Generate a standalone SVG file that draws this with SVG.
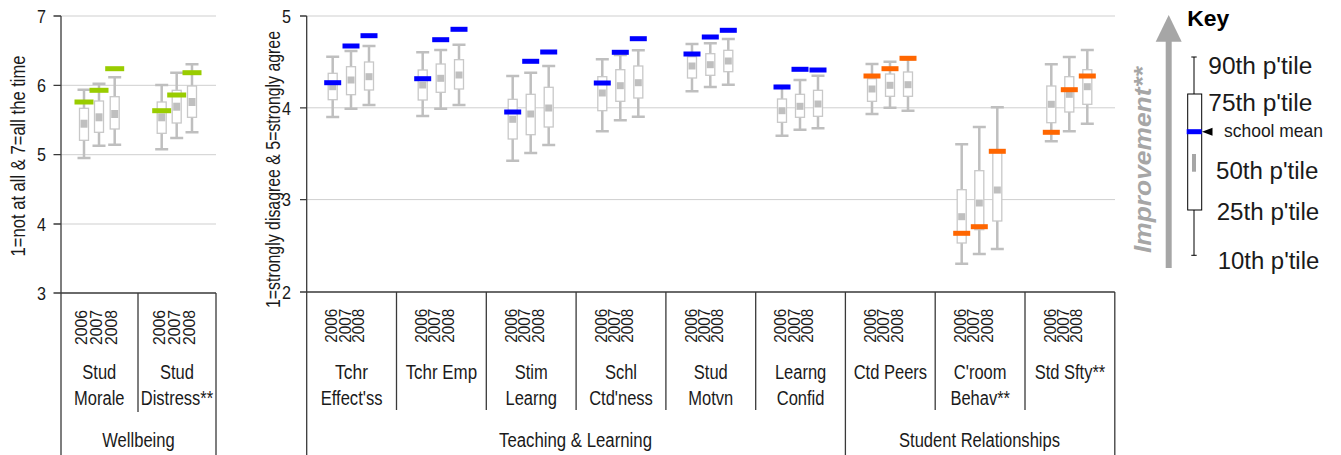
<svg xmlns="http://www.w3.org/2000/svg" width="1341" height="455" viewBox="0 0 1341 455">
<style>
text{font-family:"Liberation Sans",Arial,sans-serif;fill:#1a1a1a}
.grid{stroke:#cfcfcf;stroke-width:1;fill:none}
.ax{stroke:#3a3a3a;stroke-width:1.3;fill:none}
.w{stroke:#bfbfbf;stroke-width:2.5;fill:none}
.bx{fill:#fff;stroke:#c8c8c8;stroke-width:1.3}
.md{fill:#bfbfbf}
.mg{fill:#99cc00}
.mb{fill:#0000ff}
.mo{fill:#ff6600}
.tk{font-size:19px;text-anchor:end}
.yr{font-size:16px}
.cl{font-size:20px;text-anchor:middle}
.kl{font-size:23px}
</style>

<g id="left-chart">
  <g id="left-grid">
    <path class="grid" d="M61 16H216M61 85.3H216M61 154.7H216M61 224H216"/>
    <path class="ax" d="M61 16V455M53.5 16H61M53.5 85.3H61M53.5 154.7H61M53.5 224H61M53.5 293H216M138 293V412M216 293V455"/>
    <text class="tk" x="46" y="22.7" textLength="9" lengthAdjust="spacingAndGlyphs">7</text>
    <text class="tk" x="46" y="92" textLength="9" lengthAdjust="spacingAndGlyphs">6</text>
    <text class="tk" x="46" y="161.4" textLength="9" lengthAdjust="spacingAndGlyphs">5</text>
    <text class="tk" x="46" y="230.7" textLength="9" lengthAdjust="spacingAndGlyphs">4</text>
    <text class="tk" x="46" y="299.7" textLength="9" lengthAdjust="spacingAndGlyphs">3</text>
    <text font-size="20" text-anchor="middle" transform="translate(25,155.9) rotate(-90)" textLength="201" lengthAdjust="spacingAndGlyphs">1=not at all &amp; 7=all the time</text>
  </g>
  <g id="stud-morale">
    <g id="sm06"><path class="w" d="M84 89.7V158M77.5 89.7H90.5M77.5 158H90.5"/><rect class="bx" x="79.5" y="108.3" width="9" height="32"/><rect class="md" x="80.5" y="119.7" width="7" height="8"/><rect class="mg" x="74.5" y="99.5" width="19" height="5"/></g>
    <g id="sm07"><path class="w" d="M99 83.7V145.7M92.5 83.7H105.5M92.5 145.7H105.5"/><rect class="bx" x="94.5" y="101" width="9" height="31.3"/><rect class="md" x="95.5" y="113.3" width="7" height="8"/><rect class="mg" x="89.5" y="87.8" width="19" height="5"/></g>
    <g id="sm08"><path class="w" d="M114.7 77.3V144.7M108.2 77.3H121.2M108.2 144.7H121.2"/><rect class="bx" x="110.2" y="96.7" width="9" height="32.3"/><rect class="md" x="111.2" y="110" width="7" height="8"/><rect class="mg" x="105.2" y="66.2" width="19" height="5"/></g>
    <text class="yr" font-size="17" transform="translate(87.3,345) rotate(-90)" textLength="35" lengthAdjust="spacingAndGlyphs">2006</text>
    <text class="yr" font-size="17" transform="translate(101.7,345) rotate(-90)" textLength="35" lengthAdjust="spacingAndGlyphs">2007</text>
    <text class="yr" font-size="17" transform="translate(116.7,345) rotate(-90)" textLength="35" lengthAdjust="spacingAndGlyphs">2008</text>
    <text class="cl" x="99.3" y="379.3" textLength="34" lengthAdjust="spacingAndGlyphs">Stud</text>
    <text class="cl" x="99.3" y="405" textLength="50.4" lengthAdjust="spacingAndGlyphs">Morale</text>
  </g>
  <g id="stud-distress">
    <g id="sd06"><path class="w" d="M161.7 85V149.3M155.2 85H168.2M155.2 149.3H168.2"/><rect class="bx" x="157.2" y="102" width="9" height="31.3"/><rect class="md" x="158.2" y="113.3" width="7" height="8"/><rect class="mg" x="152.2" y="108.2" width="19" height="5"/></g>
    <g id="sd07"><path class="w" d="M176.7 72.7V138M170.2 72.7H183.2M170.2 138H183.2"/><rect class="bx" x="172.2" y="90.3" width="9" height="32.7"/><rect class="md" x="173.2" y="102.7" width="7" height="8"/><rect class="mg" x="167.2" y="92.5" width="19" height="5"/></g>
    <g id="sd08"><path class="w" d="M192 64.3V132.3M185.5 64.3H198.5M185.5 132.3H198.5"/><rect class="bx" x="187.5" y="86" width="9" height="31.3"/><rect class="md" x="188.5" y="98" width="7" height="8"/><rect class="mg" x="182.5" y="70.2" width="19" height="5"/></g>
    <text class="yr" font-size="17" transform="translate(165,345) rotate(-90)" textLength="35" lengthAdjust="spacingAndGlyphs">2006</text>
    <text class="yr" font-size="17" transform="translate(179.7,345) rotate(-90)" textLength="35" lengthAdjust="spacingAndGlyphs">2007</text>
    <text class="yr" font-size="17" transform="translate(194.7,345) rotate(-90)" textLength="35" lengthAdjust="spacingAndGlyphs">2008</text>
    <text class="cl" x="177" y="379.3" textLength="34" lengthAdjust="spacingAndGlyphs">Stud</text>
    <text class="cl" x="177" y="405" textLength="72.4" lengthAdjust="spacingAndGlyphs">Distress**</text>
  </g>
  <text class="cl" font-size="21" x="138.5" y="447" textLength="72.4" lengthAdjust="spacingAndGlyphs">Wellbeing</text>
</g>

<g id="main-chart">
  <g id="main-grid">
    <path class="grid" d="M306.7 16H1115M306.7 107.8H1115M306.7 199.6H1115"/>
    <path class="ax" d="M306.7 16V455M300 16H306.7M300 107.8H306.7M300 199.6H306.7M300 292H1114.8M845.4 292V455M1114.8 292V455M396.5 292V410M486.3 292V410M576.1 292V410M665.9 292V410M755.7 292V410M935.2 292V410M1025 292V410"/>
    <text class="tk" x="291" y="22.7" textLength="9" lengthAdjust="spacingAndGlyphs">5</text>
    <text class="tk" x="291" y="114.5" textLength="9" lengthAdjust="spacingAndGlyphs">4</text>
    <text class="tk" x="291" y="206.3" textLength="9" lengthAdjust="spacingAndGlyphs">3</text>
    <text class="tk" x="291" y="298.7" textLength="9" lengthAdjust="spacingAndGlyphs">2</text>
    <text font-size="20" text-anchor="middle" transform="translate(280,169.5) rotate(-90)" textLength="277" lengthAdjust="spacingAndGlyphs">1=strongly disagree &amp; 5=strongly agree</text>
  </g>

  <g id="tchr-effectss">
    <g id="te06"><path class="w" d="M332.7 56.7V117M326.2 56.7H339.2M326.2 117H339.2"/><rect class="bx" x="328.2" y="73.3" width="9" height="26.4"/><rect class="md" x="329.2" y="83.2" width="7" height="7"/><rect class="mb" x="324.2" y="80.2" width="17" height="5"/></g>
    <g id="te07"><path class="w" d="M351 51V108.7M344.5 51H357.5M344.5 108.7H357.5"/><rect class="bx" x="346.5" y="66.7" width="9" height="28"/><rect class="md" x="347.5" y="76.5" width="7" height="7"/><rect class="mb" x="342.5" y="43.5" width="17" height="5"/></g>
    <g id="te08"><path class="w" d="M369 46V105M362.5 46H375.5M362.5 105H375.5"/><rect class="bx" x="364.5" y="62" width="9" height="28"/><rect class="md" x="365.5" y="73.2" width="7" height="7"/><rect class="mb" x="360.5" y="33.2" width="17" height="5"/></g>
    <text class="yr" transform="translate(337.3,342.7) rotate(-90)" textLength="34" lengthAdjust="spacingAndGlyphs">2006</text>
    <text class="yr" transform="translate(350.6,342.7) rotate(-90)" textLength="34" lengthAdjust="spacingAndGlyphs">2007</text>
    <text class="yr" transform="translate(363.9,342.7) rotate(-90)" textLength="34" lengthAdjust="spacingAndGlyphs">2008</text>
    <text class="cl" x="351.6" y="379.3" textLength="33" lengthAdjust="spacingAndGlyphs">Tchr</text>
    <text class="cl" x="351.6" y="405" textLength="61.8" lengthAdjust="spacingAndGlyphs">Effect'ss</text>
  </g>

  <g id="tchr-emp">
    <g id="tm06"><path class="w" d="M422.7 52.3V116M416.2 52.3H429.2M416.2 116H429.2"/><rect class="bx" x="418.2" y="70" width="9" height="30"/><rect class="md" x="419.2" y="81.5" width="7" height="7"/><rect class="mb" x="414.2" y="76.2" width="17" height="5"/></g>
    <g id="tm07"><path class="w" d="M440.7 50V108.7M434.2 50H447.2M434.2 108.7H447.2"/><rect class="bx" x="436.2" y="64" width="9" height="28.3"/><rect class="md" x="437.2" y="74.8" width="7" height="7"/><rect class="mb" x="432.2" y="37.2" width="17" height="5"/></g>
    <g id="tm08"><path class="w" d="M459 44.7V105M452.5 44.7H465.5M452.5 105H465.5"/><rect class="bx" x="454.5" y="59.7" width="9" height="29.3"/><rect class="md" x="455.5" y="71.5" width="7" height="7"/><rect class="mb" x="450.5" y="26.8" width="17" height="5"/></g>
    <text class="yr" transform="translate(427.1,342.7) rotate(-90)" textLength="34" lengthAdjust="spacingAndGlyphs">2006</text>
    <text class="yr" transform="translate(440.4,342.7) rotate(-90)" textLength="34" lengthAdjust="spacingAndGlyphs">2007</text>
    <text class="yr" transform="translate(453.7,342.7) rotate(-90)" textLength="34" lengthAdjust="spacingAndGlyphs">2008</text>
    <text class="cl" x="441.4" y="379.3" textLength="71.5" lengthAdjust="spacingAndGlyphs">Tchr Emp</text>
  </g>

  <g id="stim-learng">
    <g id="sl06"><path class="w" d="M512.7 76V160.7M506.2 76H519.2M506.2 160.7H519.2"/><rect class="bx" x="508.2" y="99.3" width="9" height="39.7"/><rect class="md" x="509.2" y="115.8" width="7" height="7"/><rect class="mb" x="504.2" y="109.5" width="17" height="5"/></g>
    <g id="sl07"><path class="w" d="M530.7 72.7V153M524.2 72.7H537.2M524.2 153H537.2"/><rect class="bx" x="526.2" y="94.3" width="9" height="40.4"/><rect class="md" x="527.2" y="110.5" width="7" height="7"/><rect class="mb" x="522.2" y="58.8" width="17" height="5"/></g>
    <g id="sl08"><path class="w" d="M548.7 66V145M542.2 66H555.2M542.2 145H555.2"/><rect class="bx" x="544.2" y="87.3" width="9" height="39.7"/><rect class="md" x="545.2" y="104.5" width="7" height="7"/><rect class="mb" x="540.2" y="49.5" width="17" height="5"/></g>
    <text class="yr" transform="translate(516.9,342.7) rotate(-90)" textLength="34" lengthAdjust="spacingAndGlyphs">2006</text>
    <text class="yr" transform="translate(530.2,342.7) rotate(-90)" textLength="34" lengthAdjust="spacingAndGlyphs">2007</text>
    <text class="yr" transform="translate(543.5,342.7) rotate(-90)" textLength="34" lengthAdjust="spacingAndGlyphs">2008</text>
    <text class="cl" x="531.2" y="379.3" textLength="33" lengthAdjust="spacingAndGlyphs">Stim</text>
    <text class="cl" x="531.2" y="405" textLength="51.4" lengthAdjust="spacingAndGlyphs">Learng</text>
  </g>

  <g id="schl-ctdness">
    <g id="sc06"><path class="w" d="M602.3 59.3V131.3M595.8 59.3H608.8M595.8 131.3H608.8"/><rect class="bx" x="597.8" y="76.7" width="9" height="34"/><rect class="md" x="598.8" y="89.5" width="7" height="7"/><rect class="mb" x="593.8" y="80.5" width="17" height="5"/></g>
    <g id="sc07"><path class="w" d="M620.3 55V120.3M613.8 55H626.8M613.8 120.3H626.8"/><rect class="bx" x="615.8" y="69.7" width="9" height="31.6"/><rect class="md" x="616.8" y="82.2" width="7" height="7"/><rect class="mb" x="611.8" y="49.8" width="17" height="5"/></g>
    <g id="sc08"><path class="w" d="M638.3 50.3V116.7M631.8 50.3H644.8M631.8 116.7H644.8"/><rect class="bx" x="633.8" y="66" width="9" height="32"/><rect class="md" x="634.8" y="79.2" width="7" height="7"/><rect class="mb" x="629.8" y="36.2" width="17" height="5"/></g>
    <text class="yr" transform="translate(606.7,342.7) rotate(-90)" textLength="34" lengthAdjust="spacingAndGlyphs">2006</text>
    <text class="yr" transform="translate(620,342.7) rotate(-90)" textLength="34" lengthAdjust="spacingAndGlyphs">2007</text>
    <text class="yr" transform="translate(633.3,342.7) rotate(-90)" textLength="34" lengthAdjust="spacingAndGlyphs">2008</text>
    <text class="cl" x="621" y="379.3" textLength="32.1" lengthAdjust="spacingAndGlyphs">Schl</text>
    <text class="cl" x="621" y="405" textLength="63.7" lengthAdjust="spacingAndGlyphs">Ctd'ness</text>
  </g>

  <g id="stud-motvn">
    <g id="mo06"><path class="w" d="M692 44V91.3M685.5 44H698.5M685.5 91.3H698.5"/><rect class="bx" x="687.5" y="56.7" width="9" height="21.3"/><rect class="md" x="688.5" y="62.5" width="7" height="7"/><rect class="mb" x="683.5" y="51.5" width="17" height="5"/></g>
    <g id="mo07"><path class="w" d="M710.3 43.3V87M703.8 43.3H716.8M703.8 87H716.8"/><rect class="bx" x="705.8" y="53.7" width="9" height="21.6"/><rect class="md" x="706.8" y="61.2" width="7" height="7"/><rect class="mb" x="701.8" y="34.5" width="17" height="5"/></g>
    <g id="mo08"><path class="w" d="M728.3 39V84.7M721.8 39H734.8M721.8 84.7H734.8"/><rect class="bx" x="723.8" y="50.3" width="9" height="21.4"/><rect class="md" x="724.8" y="57.5" width="7" height="7"/><rect class="mb" x="719.8" y="27.8" width="17" height="5"/></g>
    <text class="yr" transform="translate(696.5,342.7) rotate(-90)" textLength="34" lengthAdjust="spacingAndGlyphs">2006</text>
    <text class="yr" transform="translate(709.8,342.7) rotate(-90)" textLength="34" lengthAdjust="spacingAndGlyphs">2007</text>
    <text class="yr" transform="translate(723.1,342.7) rotate(-90)" textLength="34" lengthAdjust="spacingAndGlyphs">2008</text>
    <text class="cl" x="710.8" y="379.3" textLength="34" lengthAdjust="spacingAndGlyphs">Stud</text>
    <text class="cl" x="710.8" y="405" textLength="44.9" lengthAdjust="spacingAndGlyphs">Motvn</text>
  </g>

  <g id="learng-confid">
    <g id="lc06"><path class="w" d="M782 86V135.7M775.5 86H788.5M775.5 135.7H788.5"/><rect class="bx" x="777.5" y="99" width="9" height="23.3"/><rect class="md" x="778.5" y="107.2" width="7" height="7"/><rect class="mb" x="773.5" y="84.5" width="17" height="5"/></g>
    <g id="lc07"><path class="w" d="M800 80V129.7M793.5 80H806.5M793.5 129.7H806.5"/><rect class="bx" x="795.5" y="94.3" width="9" height="23"/><rect class="md" x="796.5" y="102.8" width="7" height="7"/><rect class="mb" x="791.5" y="66.8" width="17" height="5"/></g>
    <g id="lc08"><path class="w" d="M818 75.7V128.3M811.5 75.7H824.5M811.5 128.3H824.5"/><rect class="bx" x="813.5" y="90.3" width="9" height="26"/><rect class="md" x="814.5" y="100.5" width="7" height="7"/><rect class="mb" x="809.5" y="67.5" width="17" height="5"/></g>
    <text class="yr" transform="translate(786.3,342.7) rotate(-90)" textLength="34" lengthAdjust="spacingAndGlyphs">2006</text>
    <text class="yr" transform="translate(799.6,342.7) rotate(-90)" textLength="34" lengthAdjust="spacingAndGlyphs">2007</text>
    <text class="yr" transform="translate(812.9,342.7) rotate(-90)" textLength="34" lengthAdjust="spacingAndGlyphs">2008</text>
    <text class="cl" x="800.6" y="379.3" textLength="51.4" lengthAdjust="spacingAndGlyphs">Learng</text>
    <text class="cl" x="800.6" y="405" textLength="47.7" lengthAdjust="spacingAndGlyphs">Confid</text>
  </g>

  <g id="ctd-peers">
    <g id="cp06"><path class="w" d="M872 64V114M865.5 64H878.5M865.5 114H878.5"/><rect class="bx" x="867.5" y="78.7" width="9" height="22.6"/><rect class="md" x="868.5" y="85.5" width="7" height="7"/><rect class="mo" x="863.5" y="73.5" width="17" height="5"/></g>
    <g id="cp07"><path class="w" d="M890 61.7V107.7M883.5 61.7H896.5M883.5 107.7H896.5"/><rect class="bx" x="885.5" y="74" width="9" height="22.3"/><rect class="md" x="886.5" y="81.8" width="7" height="7"/><rect class="mo" x="881.5" y="66.2" width="17" height="5"/></g>
    <g id="cp08"><path class="w" d="M908 59.3V110.7M901.5 59.3H914.5M901.5 110.7H914.5"/><rect class="bx" x="903.5" y="72" width="9" height="24.3"/><rect class="md" x="904.5" y="81.2" width="7" height="7"/><rect class="mo" x="899.5" y="55.8" width="17" height="5"/></g>
    <text class="yr" transform="translate(876.1,342.7) rotate(-90)" textLength="34" lengthAdjust="spacingAndGlyphs">2006</text>
    <text class="yr" transform="translate(889.4,342.7) rotate(-90)" textLength="34" lengthAdjust="spacingAndGlyphs">2007</text>
    <text class="yr" transform="translate(902.7,342.7) rotate(-90)" textLength="34" lengthAdjust="spacingAndGlyphs">2008</text>
    <text class="cl" x="890.4" y="379.3" textLength="73.4" lengthAdjust="spacingAndGlyphs">Ctd Peers</text>
  </g>

  <g id="croom-behav">
    <g id="cb06"><path class="w" d="M961.7 144.3V263.7M955.2 144.3H968.2M955.2 263.7H968.2"/><rect class="bx" x="957.2" y="189.7" width="9" height="53.3"/><rect class="md" x="958.2" y="213.2" width="7" height="7"/><rect class="mo" x="953.2" y="230.8" width="17" height="5"/></g>
    <g id="cb07"><path class="w" d="M979.3 127V254M972.8 127H985.8M972.8 254H985.8"/><rect class="bx" x="974.8" y="170.7" width="9" height="59"/><rect class="md" x="975.8" y="199.5" width="7" height="7"/><rect class="mo" x="970.8" y="224.2" width="17" height="5"/></g>
    <g id="cb08"><path class="w" d="M997.3 107.3V249M990.8 107.3H1003.8M990.8 249H1003.8"/><rect class="bx" x="992.8" y="151.7" width="9" height="69.3"/><rect class="md" x="993.8" y="186.5" width="7" height="7"/><rect class="mo" x="988.8" y="148.8" width="17" height="5"/></g>
    <text class="yr" transform="translate(965.9,342.7) rotate(-90)" textLength="34" lengthAdjust="spacingAndGlyphs">2006</text>
    <text class="yr" transform="translate(979.2,342.7) rotate(-90)" textLength="34" lengthAdjust="spacingAndGlyphs">2007</text>
    <text class="yr" transform="translate(992.5,342.7) rotate(-90)" textLength="34" lengthAdjust="spacingAndGlyphs">2008</text>
    <text class="cl" x="980.2" y="379.3" textLength="52.7" lengthAdjust="spacingAndGlyphs">C'room</text>
    <text class="cl" x="980.2" y="405" textLength="59.6" lengthAdjust="spacingAndGlyphs">Behav**</text>
  </g>

  <g id="std-sfty">
    <g id="ss06"><path class="w" d="M1051.3 64.3V141.3M1044.8 64.3H1057.8M1044.8 141.3H1057.8"/><rect class="bx" x="1046.8" y="86" width="9" height="36.7"/><rect class="md" x="1047.8" y="100.8" width="7" height="7"/><rect class="mo" x="1042.8" y="129.8" width="17" height="5"/></g>
    <g id="ss07"><path class="w" d="M1069.3 57V131.3M1062.8 57H1075.8M1062.8 131.3H1075.8"/><rect class="bx" x="1064.8" y="76.7" width="9" height="35.3"/><rect class="md" x="1065.8" y="90.8" width="7" height="7"/><rect class="mo" x="1060.8" y="87.2" width="17" height="5"/></g>
    <g id="ss08"><path class="w" d="M1087.3 50V123.7M1080.8 50H1093.8M1080.8 123.7H1093.8"/><rect class="bx" x="1082.8" y="69.7" width="9" height="34.6"/><rect class="md" x="1083.8" y="83.2" width="7" height="7"/><rect class="mo" x="1078.8" y="73.5" width="17" height="5"/></g>
    <text class="yr" transform="translate(1055.7,342.7) rotate(-90)" textLength="34" lengthAdjust="spacingAndGlyphs">2006</text>
    <text class="yr" transform="translate(1069,342.7) rotate(-90)" textLength="34" lengthAdjust="spacingAndGlyphs">2007</text>
    <text class="yr" transform="translate(1082.3,342.7) rotate(-90)" textLength="34" lengthAdjust="spacingAndGlyphs">2008</text>
    <text class="cl" x="1070" y="379.3" textLength="70.6" lengthAdjust="spacingAndGlyphs">Std Sfty**</text>
  </g>

  <text class="cl" font-size="21" x="575.5" y="447" textLength="153" lengthAdjust="spacingAndGlyphs">Teaching &amp; Learning</text>
  <text class="cl" font-size="21" x="979.5" y="447" textLength="161" lengthAdjust="spacingAndGlyphs">Student Relationships</text>
</g>

<g id="key">
  <g id="improvement-arrow">
    <path d="M1168.7 268V40" stroke="#a6a6a6" stroke-width="6" fill="none"/>
    <polygon points="1155.7,41.7 1168.7,15 1181.7,41.7" fill="#a6a6a6"/>
    <text font-size="24" font-weight="bold" font-style="italic" text-anchor="middle" style="fill:#a6a6a6" transform="translate(1150.5,160) rotate(-90)" textLength="186" lengthAdjust="spacingAndGlyphs">Improvement**</text>
  </g>
  <text font-size="22" font-weight="bold" x="1187.3" y="26" textLength="42" lengthAdjust="spacingAndGlyphs" style="fill:#000">Key</text>
  <g id="key-box">
    <path d="M1194 57V94M1194 210V255.3M1191.3 57H1196.7M1191.3 255.3H1196.7" stroke="#000" stroke-width="1" fill="none"/>
    <rect x="1187.7" y="94" width="14" height="116" fill="#fff" stroke="#000" stroke-width="1"/>
    <rect x="1192" y="154" width="4" height="17.7" fill="#a6a6a6"/>
    <rect class="mb" x="1186.7" y="129.2" width="15" height="5"/>
    <polygon points="1202,131.7 1212.5,127.7 1212.5,135.7" fill="#000"/>
  </g>
  <text class="kl" x="1208.3" y="74" textLength="104" lengthAdjust="spacingAndGlyphs">90th p'tile</text>
  <text class="kl" x="1208.3" y="110.7" textLength="104" lengthAdjust="spacingAndGlyphs">75th p'tile</text>
  <text font-size="19" x="1224" y="136.7" textLength="99" lengthAdjust="spacingAndGlyphs">school mean</text>
  <text class="kl" x="1216" y="179" textLength="102.3" lengthAdjust="spacingAndGlyphs">50th p'tile</text>
  <text class="kl" x="1216.7" y="220" textLength="102.6" lengthAdjust="spacingAndGlyphs">25th p'tile</text>
  <text class="kl" x="1217.7" y="269.3" textLength="101.6" lengthAdjust="spacingAndGlyphs">10th p'tile</text>
</g>
</svg>
